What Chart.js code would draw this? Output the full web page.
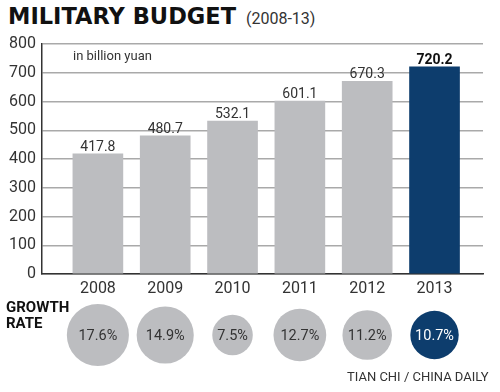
<!DOCTYPE html>
<html>
<head>
<meta charset="utf-8">
<script src="https://cdn.jsdelivr.net/npm/chart.js@4.4.1/dist/chart.umd.min.js"></script>
<style>
  body { margin: 0; background: #fff; }
  #wrap { position: relative; width: 500px; height: 392px; overflow: hidden; font-family: Roboto, sans-serif; color: #222; }
  canvas { position: absolute; left: 0; }
  #title { position: absolute; left: 8px; top: 3px; font: bold 22.5px "DejaVu Sans", sans-serif; color: #111; white-space: nowrap; }
  #title span { font: 16px Roboto, sans-serif; color: #333; margin-left: 10px; }
  #unit { position: absolute; left: 73px; top: 48px; font-size: 13px; color: #333; }
  #growth { position: absolute; left: 6px; top: 299px; font-weight: bold; font-size: 15px; line-height: 16px; color: #111; }
  #source { position: absolute; left: 347px; top: 369px; font-size: 13px; color: #333; white-space: nowrap; }
</style>
</head>
<body>
<div id="wrap">
  <div id="title">MILITARY BUDGET<span>(2008-13)</span></div>
  <canvas id="barChart" width="500" height="320" style="top:0"></canvas>
  <canvas id="rateChart" width="500" height="92" style="top:300px"></canvas>
  <div id="unit">in billion yuan</div>
  <div id="growth">GROWTH<br>RATE</div>
  <div id="source">TIAN CHI / CHINA DAILY</div>
</div>
<script>
// Data
const years = ['2008', '2009', '2010', '2011', '2012', '2013'];
const budget = [417.8, 480.7, 532.1, 601.1, 670.3, 720.2];
const growthRate = [17.6, 14.9, 7.5, 12.7, 11.2, 10.7];
const yTicks = [0, 100, 200, 300, 400, 500, 600, 700, 800];

const GRAY = '#bcbdc0';
const NAVY = '#0d3d6d';
const highlight = years.length - 1;
const colors = years.map((y, i) => i === highlight ? NAVY : GRAY);

// shared x range so both charts line up
const xRange = { min: 2007.17, max: 2013.72 };

const barLabels = {
    id: 'barLabels',
    afterDatasetsDraw(chart) {
        const ctx = chart.ctx;
        const meta = chart.getDatasetMeta(0);
        ctx.save();
        ctx.textAlign = 'center';
        ctx.textBaseline = 'alphabetic';
        meta.data.forEach((bar, i) => {
            ctx.font = (i === highlight ? 'bold ' : '') + '14px Roboto';
            ctx.fillStyle = i === highlight ? '#111' : '#333';
            ctx.fillText(budget[i].toFixed(1), bar.x, bar.y - 3);
        });
        ctx.restore();
    }
};

new Chart(document.getElementById('barChart'), {
    type: 'bar',
    data: {
        labels: years,
        datasets: [{
            data: budget,
            backgroundColor: colors,
            barThickness: 50
        }]
    },
    options: {
        responsive: false,
        animation: false,
        layout: { autoPadding: false, padding: { top: 44, right: 17, left: 0, bottom: 0 } },
        plugins: { legend: { display: false }, tooltip: { enabled: false } },
        scales: {
            x: {
                type: 'linear',
                offset: false,
                min: xRange.min,
                max: xRange.max,
                afterBuildTicks: scale => { scale.ticks = years.map(y => ({ value: +y })); },
                afterFit: scale => { scale.height = 46; },
                grid: { display: false, offset: false },
                border: { color: '#333', width: 1.5 },
                ticks: {
                    callback: v => String(v),
                    font: { family: 'Roboto', size: 16 },
                    color: '#333',
                    padding: -3,
                    maxRotation: 0
                }
            },
            y: {
                min: 0,
                max: 800,
                afterBuildTicks: scale => { scale.ticks = yTicks.map(v => ({ value: v })); },
                afterFit: scale => { scale.width = 42; },
                grid: { color: '#a9a9a9', lineWidth: 1.5, drawTicks: false },
                border: { color: '#333', width: 1.5 },
                ticks: {
                    font: { family: 'Roboto', size: 16 },
                    color: '#333',
                    padding: 6
                }
            }
        }
    },
    plugins: [barLabels]
});

const bubbleLabels = {
    id: 'bubbleLabels',
    afterDatasetsDraw(chart) {
        const ctx = chart.ctx;
        const meta = chart.getDatasetMeta(0);
        ctx.save();
        ctx.textAlign = 'center';
        ctx.textBaseline = 'middle';
        ctx.font = '14.5px Roboto';
        meta.data.forEach((pt, i) => {
            ctx.fillStyle = i === highlight ? '#fff' : '#333';
            ctx.fillText(growthRate[i].toFixed(1) + '%', pt.x, pt.y + 1);
        });
        ctx.restore();
    }
};

new Chart(document.getElementById('rateChart'), {
    type: 'bubble',
    data: {
        datasets: [{
            // bubble area proportional to the growth rate
            data: years.map((y, i) => ({ x: +y, y: 0, r: 7.4 * Math.sqrt(growthRate[i]) })),
            backgroundColor: colors,
            borderWidth: 0,
            clip: false
        }]
    },
    options: {
        responsive: false,
        animation: false,
        layout: { autoPadding: false, padding: { top: 0, right: 17, left: 42, bottom: 22 } },
        plugins: { legend: { display: false }, tooltip: { enabled: false } },
        scales: {
            x: { type: 'linear', min: xRange.min, max: xRange.max, display: false },
            y: { min: -1, max: 1, display: false }
        }
    },
    plugins: [bubbleLabels]
});
</script>
</body>
</html>
